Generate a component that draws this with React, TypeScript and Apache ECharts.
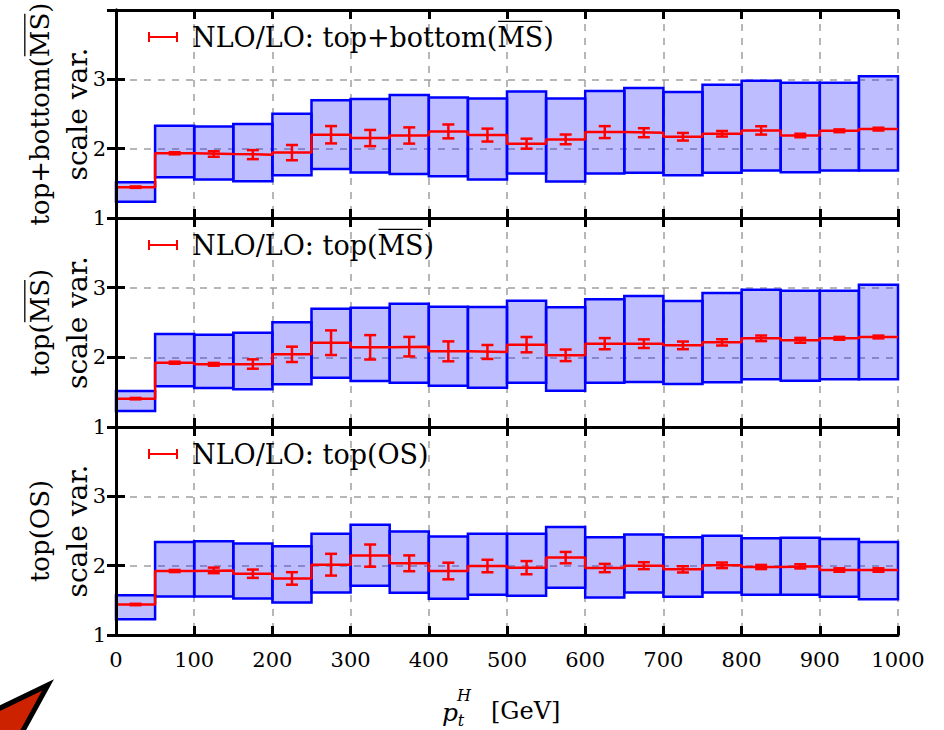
import React, { useEffect, useRef } from "react";
import * as echarts from "echarts";

// ---------- data ----------
const binStart = [0, 50, 100, 150, 200, 250, 300, 350, 400, 450, 500, 550, 600, 650, 700, 750, 800, 850, 900, 950];
const binWidth = 50;
const xTicks = [0, 100, 200, 300, 400, 500, 600, 700, 800, 900, 1000];
const yTickLabels = ["1", "2", "3"];

const panelNames = ["NLO/LO: top+bottom(MS)", "NLO/LO: top(MS)", "NLO/LO: top(OS)"];
const panelYLabels = ["top+bottom(MS)", "top(MS)", "top(OS)"];
// which panels carry an overline (MS-bar scheme) and the text before the overlined "MS"
const overlined = [true, true, false];
const legendPrefix = ["NLO/LO: top+bottom(", "NLO/LO: top(", ""];
const ylabelPrefix = ["top+bottom(", "top(", ""];

// panel 1: top+bottom (MSbar)
const central1 = [1.445, 1.933, 1.923, 1.914, 1.943, 2.201, 2.153, 2.19, 2.249, 2.196, 2.072, 2.134, 2.239, 2.23, 2.172, 2.215, 2.263, 2.19, 2.258, 2.282];
const stat1 = [0.01, 0.015, 0.04, 0.065, 0.11, 0.125, 0.117, 0.117, 0.1, 0.093, 0.072, 0.07, 0.086, 0.065, 0.055, 0.04, 0.06, 0.025, 0.02, 0.02];
const low1 = [1.234, 1.589, 1.555, 1.531, 1.617, 1.708, 1.656, 1.636, 1.603, 1.555, 1.641, 1.526, 1.641, 1.651, 1.617, 1.651, 1.684, 1.66, 1.684, 1.684];
const high1 = [1.517, 2.33, 2.32, 2.354, 2.502, 2.699, 2.718, 2.775, 2.737, 2.722, 2.823, 2.722, 2.833, 2.876, 2.818, 2.923, 2.981, 2.952, 2.952, 3.043];

// panel 2: top (MSbar)
const central2 = [1.407, 1.923, 1.9, 1.904, 2.043, 2.21, 2.144, 2.153, 2.086, 2.077, 2.182, 2.029, 2.196, 2.196, 2.172, 2.215, 2.273, 2.244, 2.273, 2.292];
const stat2 = [0.01, 0.015, 0.02, 0.067, 0.11, 0.177, 0.175, 0.14, 0.143, 0.1, 0.11, 0.083, 0.08, 0.062, 0.055, 0.045, 0.04, 0.035, 0.02, 0.02];
const low2 = [1.23, 1.584, 1.56, 1.541, 1.612, 1.708, 1.66, 1.636, 1.593, 1.565, 1.636, 1.522, 1.636, 1.646, 1.617, 1.641, 1.684, 1.665, 1.684, 1.684];
const high2 = [1.517, 2.335, 2.325, 2.354, 2.502, 2.699, 2.713, 2.77, 2.727, 2.722, 2.813, 2.718, 2.833, 2.88, 2.809, 2.923, 2.971, 2.957, 2.957, 3.043];

// panel 3: top (OS)
const central3 = [1.44, 1.923, 1.932, 1.884, 1.816, 2.014, 2.145, 2.034, 1.923, 1.995, 1.971, 2.116, 1.966, 2.0, 1.947, 2.005, 1.981, 1.99, 1.937, 1.937];
const stat3 = [0.01, 0.015, 0.04, 0.06, 0.09, 0.157, 0.16, 0.114, 0.12, 0.09, 0.095, 0.082, 0.06, 0.05, 0.045, 0.04, 0.03, 0.03, 0.025, 0.025];
const low3 = [1.227, 1.556, 1.556, 1.527, 1.469, 1.614, 1.71, 1.609, 1.522, 1.58, 1.565, 1.681, 1.541, 1.614, 1.551, 1.614, 1.58, 1.58, 1.551, 1.517];
const high3 = [1.575, 2.343, 2.353, 2.319, 2.28, 2.459, 2.589, 2.493, 2.42, 2.459, 2.459, 2.556, 2.41, 2.449, 2.41, 2.43, 2.396, 2.401, 2.386, 2.343];

const centrals = [central1, central2, central3];
const stats = [stat1, stat2, stat3];
const lows = [low1, low2, low3];
const highs = [high1, high2, high3];

// ---------- styling ----------
const FONT = "DejaVu Serif";
const RED = "#ff0000";
const gridTops = [10, 218, 427];
const gridHeights = [208, 209, 208];
const LEGEND_SIZE = 27;
const YLABEL_SIZE = 26;
const SCALEVAR_SIZE = 28;

let measureCtx: CanvasRenderingContext2D | null = null;
function textW(s: string, size: number) {
  if (!measureCtx) measureCtx = document.createElement("canvas").getContext("2d");
  measureCtx!.font = `${size}px "${FONT}"`;
  return measureCtx!.measureText(s).width;
}

function buildOption() {
  const grids: any[] = [];
  const xAxes: any[] = [];
  const yAxes: any[] = [];
  const series: any[] = [];
  const legends: any[] = [];
  const graphics: any[] = [];

  for (let p = 0; p < 3; p++) {
    grids.push({ left: 116, right: 46, top: gridTops[p], height: gridHeights[p], show: false });
    const baseX = xAxes.length;
    const baseY = yAxes.length;
    const tickStyle = { show: true, inside: true, length: 9, lineStyle: { color: "#000", width: 3 } };
    const lineStyle = { show: true, lineStyle: { color: "#000", width: 3 } };
    const split = { show: true, lineStyle: { color: "#a0a0a0", width: 1.5, type: [7, 7] } };
    xAxes.push({
      gridIndex: p, type: "value", min: 0, max: 1000, interval: 100, position: "bottom", z: 0,
      axisLine: { show: false }, axisTick: { show: false }, splitLine: split,
      axisLabel: {
        show: p === 2, margin: 14, color: "#000", fontFamily: FONT, fontSize: 21,
        formatter: (v: number) => (xTicks.indexOf(v) >= 0 ? String(v) : ""),
      },
    });
    xAxes.push({
      gridIndex: p, type: "value", min: 0, max: 1000, interval: 100, position: "bottom", z: 10,
      axisLine: lineStyle, axisTick: tickStyle, splitLine: { show: false }, axisLabel: { show: false },
    });
    xAxes.push({
      gridIndex: p, type: "value", min: 0, max: 1000, interval: 100, position: "top", z: 10,
      axisLine: lineStyle, axisTick: tickStyle, splitLine: { show: false }, axisLabel: { show: false },
    });
    yAxes.push({
      gridIndex: p, type: "value", min: 1, max: 4, interval: 1, position: "left", z: 0,
      axisLine: { show: false }, axisTick: { show: false }, splitLine: split,
      axisLabel: {
        show: true, margin: 10, color: "#000", fontFamily: FONT, fontSize: 21,
        formatter: (v: number) => (yTickLabels.indexOf(String(v)) >= 0 ? String(v) : ""),
      },
    });
    yAxes.push({
      gridIndex: p, type: "value", min: 1, max: 4, interval: 1, position: "left", z: 10,
      axisLine: lineStyle, axisTick: tickStyle, splitLine: { show: false }, axisLabel: { show: false },
    });
    yAxes.push({
      gridIndex: p, type: "value", min: 1, max: 4, interval: 1, position: "right", z: 10,
      axisLine: lineStyle, axisTick: tickStyle, splitLine: { show: false }, axisLabel: { show: false },
    });

    const c = centrals[p], s = stats[p], lo = lows[p], hi = highs[p];

    // scale-variation boxes
    series.push({
      type: "custom",
      name: "scale var. " + p,
      xAxisIndex: baseX, yAxisIndex: baseY, z: 2,
      data: binStart.map((x, i) => [x, x + binWidth, lo[i], hi[i]]),
      encode: { x: [0, 1], y: [2, 3] },
      renderItem: (params: any, api: any) => {
        const a = api.coord([api.value(0), api.value(3)]);
        const b = api.coord([api.value(1), api.value(2)]);
        return {
          type: "rect",
          shape: { x: a[0], y: a[1], width: b[0] - a[0], height: b[1] - a[1] },
          style: { fill: "rgba(0,0,255,0.26)", stroke: "#0000ff", lineWidth: 2.5 },
        };
      },
      silent: true,
    });

    // central step line
    const stepData = binStart.map((x, i) => [x, c[i]]);
    stepData.push([binStart[binStart.length - 1] + binWidth, c[c.length - 1]]);
    series.push({
      type: "line",
      name: panelNames[p],
      xAxisIndex: baseX, yAxisIndex: baseY, z: 4,
      step: "end",
      showSymbol: false, symbol: "none",
      data: stepData,
      lineStyle: { color: RED, width: 2.5 },
      itemStyle: { color: RED },
      silent: true,
    });

    // statistical error bars
    series.push({
      type: "custom",
      name: "stat " + p,
      xAxisIndex: baseX, yAxisIndex: baseY, z: 5,
      data: binStart.map((x, i) => [x, x + binWidth, c[i], s[i]]),
      encode: { x: [0, 1], y: 2 },
      renderItem: (params: any, api: any) => {
        const xc = (api.value(0) + api.value(1)) / 2;
        const cv = api.value(2), e = api.value(3);
        const t = api.coord([xc, cv + e]);
        const b = api.coord([xc, cv - e]);
        const st = { stroke: RED, lineWidth: 2.5 };
        const hw = 6;
        return {
          type: "group",
          children: [
            { type: "line", shape: { x1: t[0], y1: t[1], x2: b[0], y2: b[1] }, style: st },
            { type: "line", shape: { x1: t[0] - hw, y1: t[1], x2: t[0] + hw, y2: t[1] }, style: st },
            { type: "line", shape: { x1: b[0] - hw, y1: b[1], x2: b[0] + hw, y2: b[1] }, style: st },
          ],
        };
      },
      silent: true,
    });

    const legendLeft = 148;
    const legendTop = gridTops[p] + 12;
    legends.push({
      data: [panelNames[p]],
      left: legendLeft,
      top: legendTop,
      padding: 0,
      itemWidth: 30,
      itemHeight: 10,
      icon: "path://M0,4H30V6H0Z M0,0H2V10H0Z M28,0H30V10H28Z",
      itemStyle: { color: RED },
      selectedMode: false,
      textStyle: { fontFamily: FONT, fontSize: LEGEND_SIZE, color: "#000", lineHeight: 30, padding: [0, 0, 0, 9] },
    });

    const mid = gridTops[p] + gridHeights[p] / 2;
    graphics.push({
      type: "text", x: 40, y: mid, rotation: Math.PI / 2, z: 20,
      style: { text: panelYLabels[p], fontFamily: FONT, fontSize: YLABEL_SIZE, fill: "#000", align: "center", verticalAlign: "middle" },
    });
    graphics.push({
      type: "text", x: 77, y: mid, rotation: Math.PI / 2, z: 20,
      style: { text: "scale var.", fontFamily: FONT, fontSize: SCALEVAR_SIZE, fill: "#000", align: "center", verticalAlign: "middle" },
    });

    if (overlined[p]) {
      // overline over "MS" in the legend text
      const tx0 = legendLeft + 30 + 5 + 9 + textW(legendPrefix[p], LEGEND_SIZE);
      const tw = textW("MS", LEGEND_SIZE);
      const ly = legendTop + 15 - 0.43 * LEGEND_SIZE - 4;
      graphics.push({
        type: "line", z: 20,
        shape: { x1: tx0 + 1, y1: ly, x2: tx0 + tw - 1, y2: ly },
        style: { stroke: "#000", lineWidth: 1.3 },
      });
      // overline over "MS" in the rotated y-axis label
      const W = textW(panelYLabels[p], YLABEL_SIZE);
      const a = textW(ylabelPrefix[p], YLABEL_SIZE);
      const wm = textW("MS", YLABEL_SIZE);
      const ys = mid + W / 2 - a;
      const lx = 40 - 0.43 * YLABEL_SIZE - 4;
      graphics.push({
        type: "line", z: 20,
        shape: { x1: lx, y1: ys - 1, x2: lx, y2: ys - wm + 1 },
        style: { stroke: "#000", lineWidth: 1.3 },
      });
    }
  }

  // x-axis title: p_t^H [GeV]
  graphics.push({ type: "text", x: 450, y: 712, z: 20, style: { text: "p", fontFamily: FONT, fontStyle: "italic", fontSize: 25, fill: "#000", align: "center", verticalAlign: "middle" } });
  graphics.push({ type: "text", x: 464, y: 695, z: 20, style: { text: "H", fontFamily: FONT, fontStyle: "italic", fontSize: 16, fill: "#000", align: "center", verticalAlign: "middle" } });
  graphics.push({ type: "text", x: 461, y: 720, z: 20, style: { text: "t", fontFamily: FONT, fontStyle: "italic", fontSize: 16, fill: "#000", align: "center", verticalAlign: "middle" } });
  graphics.push({ type: "text", x: 491, y: 711, z: 20, style: { text: "[GeV]", fontFamily: FONT, fontSize: 24, fill: "#000", align: "left", verticalAlign: "middle" } });

  // decorative wedge in the bottom-left corner
  graphics.push({
    type: "polygon", z: 30,
    shape: { points: [[-6, 711], [48, 685], [20, 736], [-6, 736]] },
    style: { fill: "#cc2200", stroke: "#000", lineWidth: 5, lineJoin: "miter" },
  });

  return {
    animation: false,
    backgroundColor: "#ffffff",
    grid: grids,
    xAxis: xAxes,
    yAxis: yAxes,
    legend: legends,
    series,
    graphic: graphics,
  };
}

export default function App() {
  const ref = useRef<HTMLDivElement>(null);
  useEffect(() => {
    document.body.style.margin = "0";
    const chart = echarts.init(ref.current!, null, { renderer: "svg" });
    chart.setOption(buildOption() as any);
    return () => chart.dispose();
  }, []);
  return <div ref={ref} style={{ width: 944, height: 730 }} />;
}
